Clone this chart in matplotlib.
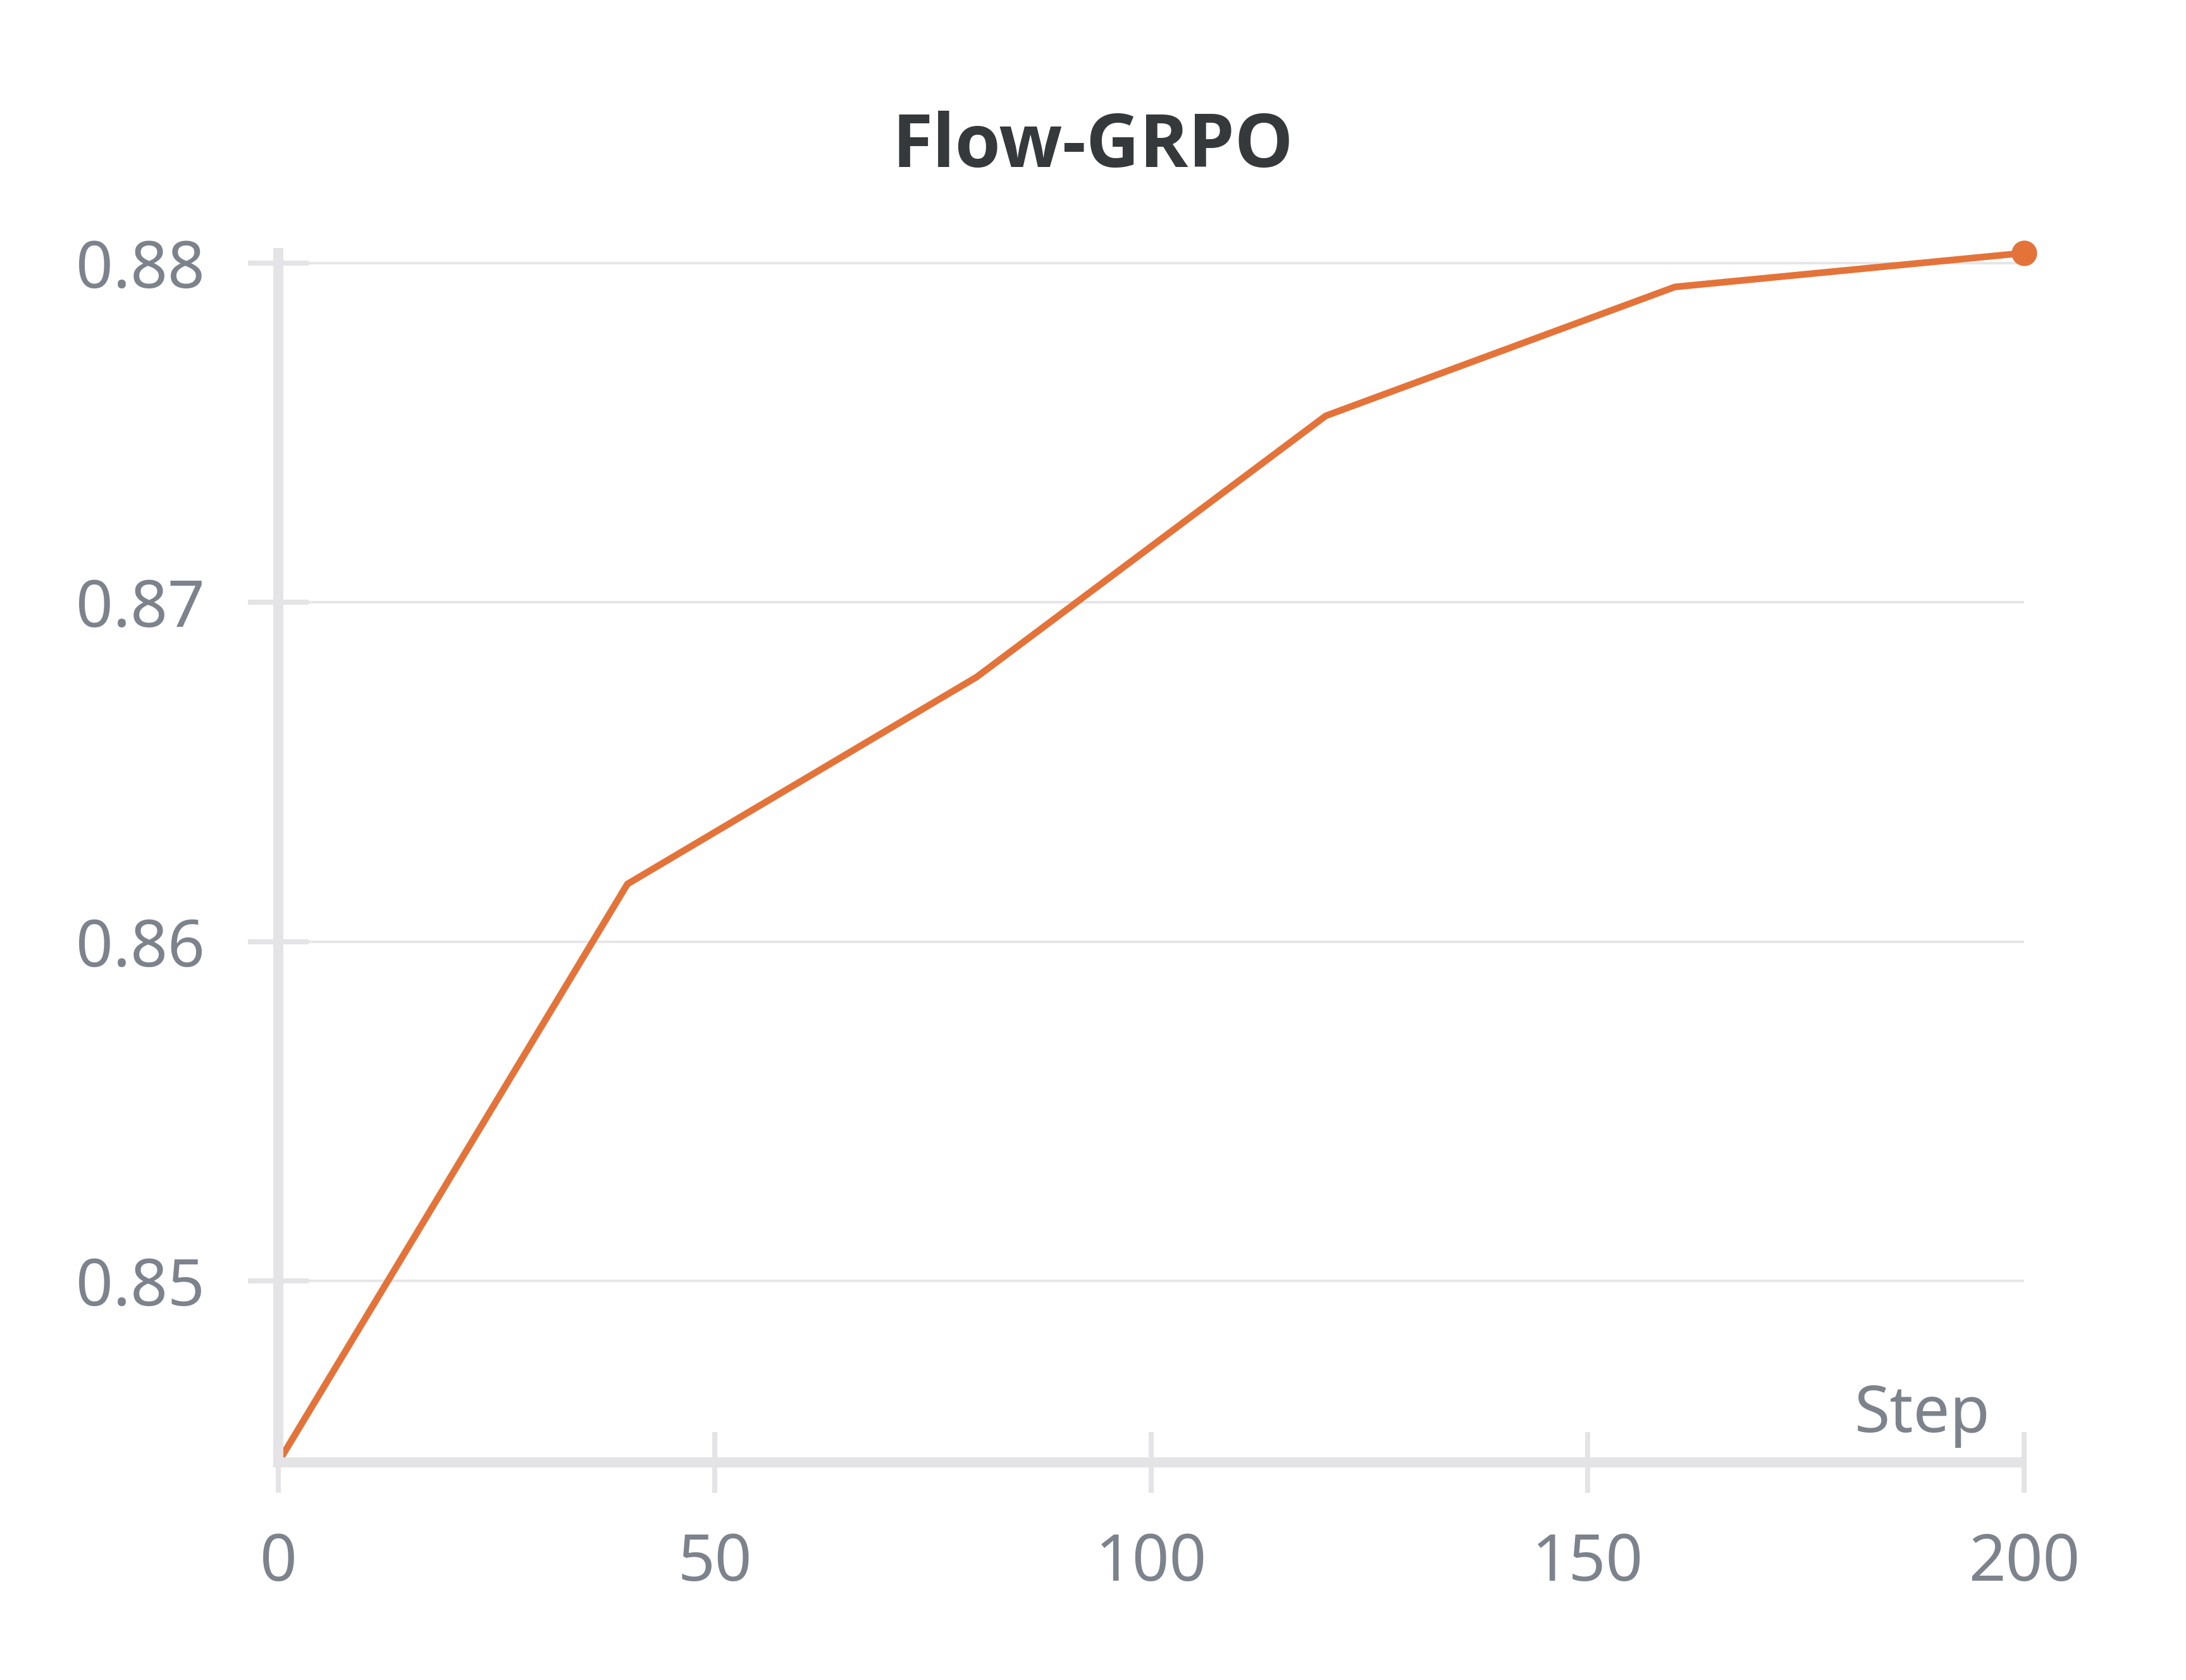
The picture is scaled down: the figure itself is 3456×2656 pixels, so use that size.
import matplotlib
matplotlib.use("Agg")
import matplotlib.pyplot as plt

# values
steps = [0, 40, 80, 120, 160, 200]
reward = [0.84465, 0.8617, 0.8678, 0.8755, 0.8793, 0.8803]
y_ticks = [0.85, 0.86, 0.87, 0.88]
x_ticks = [0, 50, 100, 150, 200]

title = "Flow-GRPO"
x_label = "Step"

line_color = "#e4733a"
axis_color = "#e4e4e7"
grid_color = "#e6e6e8"
label_color = "#7d838c"
title_color = "#35393c"

plt.rcParams["font.family"] = ["Noto Sans", "DejaVu Sans"]

fig = plt.figure(figsize=(34.56, 26.56), dpi=100)
ax = fig.add_axes([0.12731, 0.12952, 0.79861, 0.71988])

# line is not clipped so its top end is not cut at the y limit
ax.plot(steps, reward, color=line_color, linewidth=7.6, solid_joinstyle="miter",
        clip_on=False, zorder=2)
ax.plot(steps[-1:], reward[-1:], "o", color=line_color, markersize=29,
        markeredgewidth=0, clip_on=False, zorder=4)

ax.set_xlim(0, 200)
ax.set_ylim(reward[0], reward[-1])
ax.set_xticks(x_ticks)
ax.set_yticks(y_ticks)
ax.set_yticklabels([f"{v:.2f}" for v in y_ticks])

for side in ["top", "right"]:
    ax.spines[side].set_visible(False)
for side in ["left", "bottom"]:
    ax.spines[side].set_color(axis_color)
    ax.spines[side].set_linewidth(11.5)
    ax.spines[side].set_zorder(3)
# bottom axis stops at the last tick; left one keeps its square corner
ax.spines["bottom"].set_capstyle("butt")

ax.tick_params(axis="both", direction="inout", length=69, width=5.8,
               color=axis_color, labelcolor=label_color, labelsize=74)
ax.tick_params(axis="y", pad=49)
ax.tick_params(axis="x", pad=44)

ax.grid(axis="y", color=grid_color, linewidth=2.9)
ax.set_axisbelow(True)

fig.text(0.5, 0.9006, title, ha="center", va="baseline", fontsize=84,
         fontweight="bold", family=["Open Sans", "DejaVu Sans"], color=title_color)
fig.text(0.9106, 0.1476, x_label, ha="right", va="baseline", fontsize=74,
         color=label_color)

fig.savefig("out.png", dpi=100, facecolor="white")
